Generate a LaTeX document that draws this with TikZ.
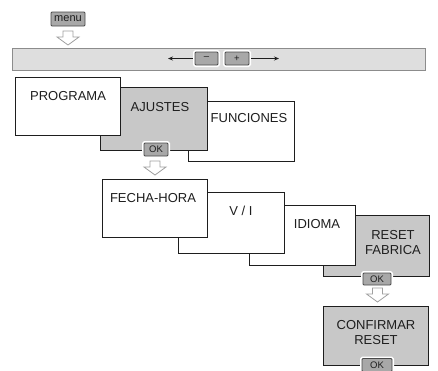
\documentclass[tikz,border=0pt]{standalone}
\usepackage{fontspec}
\setmainfont{Liberation Sans}
\usetikzlibrary{arrows.meta}
\definecolor{boxgray}{HTML}{C8C8C8}
\definecolor{bargray}{HTML}{DEDEDE}
\definecolor{bardraw}{HTML}{8C8C8C}
\definecolor{btngray}{HTML}{A8A8A8}
\definecolor{btnedge}{HTML}{4A4A4A}
\definecolor{arrowedge}{HTML}{A0A0A0}
\definecolor{ink}{HTML}{1E1E1E}
\begin{document}
\begin{tikzpicture}[x=1bp,y=-1bp,
 panel/.style={draw=ink, line width=0.9bp, fill=white, minimum width=106bp, minimum height=60bp, inner sep=0pt},
 graypanel/.style={panel, fill=boxgray},
 lbl/.style={font=\fontsize{13bp}{15bp}\selectfont, text=ink, align=center, inner sep=0pt},
 btn/.style={draw=btnedge, fill=btngray, line width=0.8bp, rounded corners=1bp, inner sep=0pt, preaction={draw=white, line width=4bp}, font=\fontsize{9.5bp}{10bp}\selectfont, text=ink},
 tinyarrow/.style={draw=ink, line width=0.8bp, -{Stealth[length=5bp,width=4bp]}, shorten <=2bp},
 harrow/.pic={\draw[draw=arrowedge, fill=white, line width=0.8bp, line join=miter] (-5,0) -- (5,0) -- (5,6) -- (11,6) -- (0,14) -- (-11,6) -- (-5,6) -- cycle;}
]
\useasboundingbox (0,0) rectangle (438,370);
% menu
\node[btn, preaction={}, minimum width=34bp, minimum height=14bp, font=\fontsize{11bp}{12bp}\selectfont] (menu) at (68,19) {menu};
\pic at (68,31) {harrow};
% bar
\node[draw=bardraw, fill=bargray, line width=0.8bp, minimum width=413bp, minimum height=22bp, inner sep=0pt] (bar) at (218.5,59) {};
\node[btn, minimum width=23bp, minimum height=13bp] (minus) at (206.5,58.5) {–};
\node[btn, minimum width=24bp, minimum height=13bp] (plus) at (237,58.5) {+};
\coordinate (la) at (168,58.5);
\coordinate (ra) at (279,58.5);
\draw[tinyarrow] (minus) -- (la);
\draw[tinyarrow] (plus) -- (ra);
% first row
\node[panel] (fun) at (241,131) {};
\node[graypanel, minimum width=107bp, minimum height=63bp] (aju) at (153.5,118.5) {};
\node[panel, minimum width=105bp, minimum height=58bp] (prog) at (67.5,106) {};
\node[lbl] (progl) at (68,96) {PROGRAMA};
\node[lbl] (ajul) at (160,107.5) {AJUSTES};
\node[lbl] (funl) at (249,118) {FUNCIONES};
\node[btn, minimum width=24bp, minimum height=13bp] (ok1) at (156,149.5) {OK};
\pic at (155,161) {harrow};
% second row
\node[graypanel, minimum height=61bp] (res) at (376,245.5) {};
\node[panel] (idi) at (302,235) {};
\node[panel, minimum height=61bp] (vi) at (231,222.5) {};
\node[panel, minimum width=105bp, minimum height=58bp] (fec) at (154.5,208) {};
\node[lbl] (fecl) at (153,198) {FECHA-HORA};
\node[lbl] (vil) at (241,211) {V / I};
\node[lbl] (idil) at (317,224) {IDIOMA};
\node[lbl] (resl) at (393,243) {RESET\\FABRICA};
\node[btn, minimum width=28bp, minimum height=12bp] (ok2) at (377,279) {OK};
\pic at (377.5,288) {harrow};
% confirm
\node[graypanel, minimum width=105bp, minimum height=59bp] (conf) at (375.5,335.5) {};
\node[lbl] (confl) at (376,332.5) {CONFIRMAR\\RESET};
\node[btn, minimum width=30bp, minimum height=13bp] (ok3) at (377,365) {OK};
\end{tikzpicture}
\end{document}
